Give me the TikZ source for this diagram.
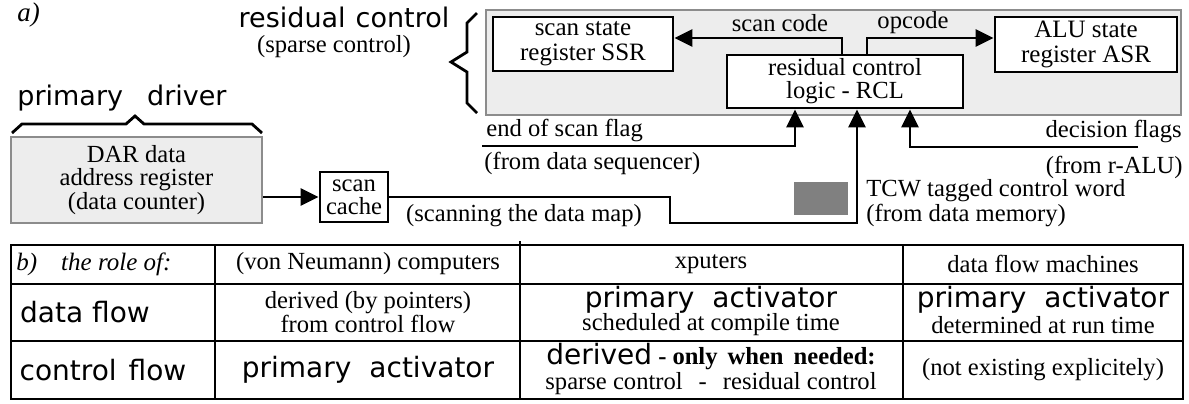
\documentclass[tikz,border=0pt]{standalone}
\usepackage{fontspec}
\setmainfont{Liberation Serif}
\newfontfamily\gen{DejaVu Sans}
\usetikzlibrary{arrows.meta,calc}
\definecolor{boxgray}{HTML}{8C8C8C}
\definecolor{fillgray}{HTML}{EDEDED}
\definecolor{tcwgray}{HTML}{808080}
\newcommand{\fs}{\fontsize{12.3}{11.6}\selectfont}
\newcommand{\fsw}{\fontsize{12.5}{12.5}\selectfont}
\newcommand{\gs}{\gen\fontsize{13.5}{14}\selectfont}
\newcommand{\gt}{\gen\fontsize{14}{14}\selectfont}
\tikzset{
  blk/.style={draw, line width=1.4pt, fill=white, inner sep=0pt, align=center},
  gbox/.style={draw=boxgray, line width=1.2pt, fill=fillgray, inner sep=0pt},
  arr/.style={line width=1.4pt, -{Triangle[length=9pt,width=8.5pt]}},
  ln/.style={line width=1.4pt},
  txt/.style={inner sep=0pt, font=\fs, align=center},
  gtxt/.style={inner sep=0pt, font=\gs, align=center},
  ttxt/.style={inner sep=0pt, font=\gt, align=center},
  tbl/.style={line width=1.2pt},
}
\begin{document}
\begin{tikzpicture}[x=0.5pt,y=-0.5pt]
\useasboundingbox (0,0) rectangle (1189,403);

% ---------- part a) ----------
\node[txt, font=\fontsize{13.5}{14}\selectfont\itshape, anchor=west] (la) at (17,15) {a)};
\node[gtxt] (rc) at (344,17) {residual\hspace{5pt}control};
\node[txt] (spc) at (334,47) {(sparse control)};
\node[gtxt] (pd) at (122,98) {primary\hspace{12pt}driver};

% braces
\draw[ln] (477,13) -- (467,23) -- (467,52) -- (451,62) -- (467,72) -- (467,103) -- (477,113);
\draw[ln] (12,133) -- (22,124) -- (126,124) -- (135,116) -- (144,124) -- (252,124) -- (262,133);

% control block
\node[gbox, minimum width=347.5pt, minimum height=52.5pt] (ctrl) at (833.5,62.5) {};
\node[blk, minimum width=90pt, minimum height=27pt, font=\fsw] (ssr) at (583,44) {scan state\\register SSR};
\node[blk, minimum width=91pt, minimum height=27.5pt, font=\fsw] (asr) at (1086,44.5) {ALU state\\register ASR};
\node[blk, minimum width=118pt, minimum height=26.5pt, font=\fs] (rcl) at (845,81.5) {residual control\\logic - RCL};

\coordinate (scx) at (842,38);
\coordinate (opx) at (867,38);
\draw[arr] (rcl.north -| scx) -- (scx) -- (ssr.east |- scx);
\draw[arr] (rcl.north -| opx) -- (opx) -- (asr.west |- opx);
\node[txt] (lsc) at (780,23) {scan code};
\node[txt] (lop) at (913,23) {opcode};

% end of scan flag
\coordinate (eosa) at (482,146);
\coordinate (eosb) at (795,146);
\draw[arr] (eosa) -- (eosb) -- (rcl.south -| eosb);
\node[txt, anchor=west] (leos) at (486,130) {end of scan flag};
\node[txt, anchor=west] (lfds) at (484,163) {(from data sequencer)};

% decision flags
\coordinate (dfa) at (1138,147);
\coordinate (dfb) at (910,147);
\draw[arr] (dfa) -- (dfb) -- (rcl.south -| dfb);
\node[txt, anchor=east] (ldf) at (1182,131) {decision flags};
\node[txt, anchor=east] (lalu) at (1183,167) {(from r-ALU)};

% DAR and scan cache
\node[gbox, minimum width=125.5pt, minimum height=43pt, font=\fs, align=center] (dar) at (136.5,180) {DAR data\\address register\\(data counter)};
\node[blk, minimum width=34pt, minimum height=25pt, font=\fs] (cache) at (354,197) {scan\\cache};
\draw[arr] (dar.east |- cache.west) -- (cache.west);

\coordinate (k1) at (670,223);
\coordinate (k2) at (857,223);
\draw[arr] (cache.east) -| (k1) -- (k2) -- (rcl.south -| k2);
\node[txt] (lscan) at (524,216) {(scanning the data map)};

\node[fill=tcwgray, minimum width=27pt, minimum height=16.5pt, inner sep=0pt] (tcw) at (821,198.5) {};
\node[txt, anchor=west] (ltcw) at (866,191) {TCW tagged control word};
\node[txt, anchor=west] (ldm) at (866,215) {(from data memory)};

% ---------- part b) table ----------
\draw[tbl] (11,245) rectangle (1183,399);
\draw[tbl] (11,284) -- (1183,284);
\draw[tbl] (11,341) -- (1183,341);
\draw[tbl] (215,245) -- (215,399);
\draw[tbl] (520,241) -- (520,399);
\draw[tbl] (903,245) -- (903,399);

\node[txt, anchor=west, font=\fontsize{12.5}{12}\selectfont\itshape] (th0) at (16,264) {b)\hspace{12pt}the role of:};
\node[txt] (th1) at (368,264) {(von Neumann) computers};
\node[txt] (th2) at (711,264) {xputers};
\node[txt] (th3) at (1043,264) {data flow machines};

\node[ttxt] (r1a) at (85,312) {data flow};
\node[txt] (r1b) at (368,312) {derived (by pointers)\\from control flow};
\node[ttxt] (r1c1) at (711,300) {primary\hspace{9pt}activator};
\node[txt] (r1c2) at (711,325) {scheduled at compile time};
\node[ttxt] (r1d1) at (1043,300) {primary\hspace{9pt}activator};
\node[txt] (r1d2) at (1043,325) {determined at run time};

\node[ttxt] (r2a) at (103,370) {control\hspace{6pt}flow};
\node[ttxt] (r2b) at (368,370) {primary\hspace{9pt}activator};
\node[txt] (r2c1) at (711,357) {{\gt derived} \textbf{-\hspace{3pt}only\hspace{5pt}when\hspace{5pt}needed:}};
\node[txt] (r2c2) at (711,384) {sparse control\hspace{8pt}-\hspace{8pt}residual control};
\node[txt] (r2d) at (1043,370) {(not existing explicitely)};
\end{tikzpicture}
\end{document}
